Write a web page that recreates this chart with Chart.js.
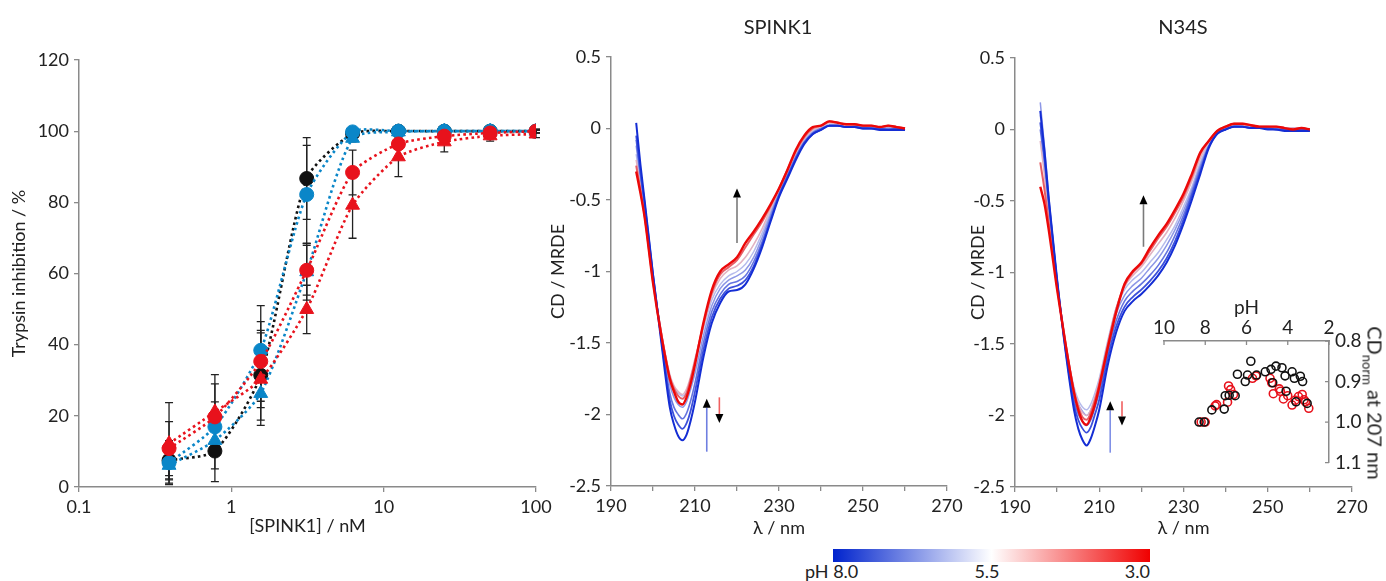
<!DOCTYPE html>
<html><head><meta charset="utf-8">
<script src="https://cdn.jsdelivr.net/npm/chart.js@4.4.1/dist/chart.umd.min.js"></script>
<style>
html,body{margin:0;padding:0;background:#fff;}
body{width:1386px;height:581px;position:relative;overflow:hidden;font-family:Lato,"Open Sans",sans-serif;color:#222;}
canvas{position:absolute;}
.t{position:absolute;white-space:nowrap;line-height:1;}
</style></head><body>
<canvas id="c1" width="560" height="545" style="left:0;top:0"></canvas>
<canvas id="c2" width="432" height="545" style="left:540px;top:0"></canvas>
<canvas id="c3" width="426" height="545" style="left:960px;top:0"></canvas>
<canvas id="c4" width="246" height="190" style="left:1140px;top:290px"></canvas>
<div class="t" style="left:778px;top:26px;font-size:20px;transform:translate(-50%,-50%)">SPINK1</div>
<div class="t" style="left:1183px;top:26px;font-size:20px;transform:translate(-50%,-50%)">N34S</div>
<div class="t" style="left:1373px;top:403px;font-size:20px;transform:translate(-50%,-50%) rotate(90deg)">CD<sub style="font-size:13px">norm</sub> at 207 nm</div>
<div id="cbar" style="position:absolute;left:833px;top:549px;width:317px;height:13px;background:linear-gradient(to right,rgb(0,35,205),rgb(255,255,255) 50%,rgb(240,0,0))"></div>
<div class="t" id="cb0" style="left:805px;top:571px;font-size:18px;transform:translate(0,-50%)"></div>
<div class="t" id="cb1" style="left:987px;top:571px;font-size:18px;transform:translate(-50%,-50%)"></div>
<div class="t" id="cb2" style="left:1150px;top:571px;font-size:18px;transform:translate(-100%,-50%)"></div>
<script>
// ---------- Panel 1: trypsin inhibition ----------
const concentrations = [0.39, 0.78, 1.56, 3.125, 6.25, 12.5, 25, 50, 100];
const inhibBlackCircle = [7.5, 10.1, 31.4, 86.7, 99.3, 100, 100, 100, 100];
const errBlackCircle   = [5.5, 8.6, 12.6, 11.5, 1.0, 0.5, 0.5, 0.5, 0.5];
const inhibBlueCircle  = [6.8, 16.9, 38.4, 82.2, 99.8, 100, 100, 100, 100];
const errBlueCircle    = [4.5, 7.0, 12.6, 13.8, 1.0, 0.5, 0.5, 0.5, 0.5];
const inhibBlueTri     = [6.1, 13.1, 26.3, 60.5, 98.0, 99.8, 100, 100, 100];
const errBlueTri       = [5.0, 8.0, 4.0, 8.0, 1.0, 0.5, 0.5, 0.5, 0.5];
const inhibRedCircle   = [10.8, 19.7, 35.3, 60.9, 88.4, 96.4, 98.6, 99.5, 100];
const errRedCircle     = [7.6, 9.3, 11.2, 7.0, 6.3, 1.5, 1.5, 1.0, 0.5];
const inhibRedTri      = [12.2, 21.1, 30.3, 49.9, 79.2, 92.8, 97.0, 98.7, 99.2];
const errRedTri        = [11.5, 10.5, 13.0, 6.8, 9.3, 5.6, 2.8, 1.5, 1.0];
const inhibXTicks = [0.1, 1, 10, 100];
const inhibYTicks = [0, 20, 40, 60, 80, 100, 120];

// ---------- Panels 2/3: CD spectra ----------
const wavelengths = [196,197,198,200,202,204,205,206,207,208,209,210,
  212,214,216,218,220,222,224,226,228,230,232,234,236,238,
  240,242,244,246,248,250,252,254,256,258,260];
const phLevels = [8.0, 7.5, 7.0, 6.5, 6.0, 5.0, 4.0, 3.0];
const spink1_pH80 = [0.04,-0.25,-0.50,-1.02,-1.50,-1.95,-2.07,-2.15,-2.18,-2.14,-2.04,-1.91,
  -1.60,-1.36,-1.22,-1.14,-1.13,-1.09,-0.98,-0.83,-0.65,-0.48,-0.35,-0.22,-0.11,-0.04,
  -0.01,0.02,0.02,0.01,0.01,0.00,0.00,-0.01,-0.01,-0.01,-0.01];
const spink1_pH75 = [-0.05,-0.30,-0.52,-1.02,-1.48,-1.90,-2.01,-2.07,-2.10,-2.06,-1.97,-1.84,
  -1.55,-1.32,-1.19,-1.12,-1.10,-1.06,-0.96,-0.81,-0.64,-0.47,-0.34,-0.21,-0.10,-0.04,
  -0.01,0.02,0.02,0.01,0.01,0.00,0.00,0.00,-0.01,0.00,-0.01];
const spink1_pH70 = [-0.08,-0.32,-0.54,-1.03,-1.47,-1.85,-1.95,-2.00,-2.03,-1.99,-1.90,-1.78,
  -1.50,-1.28,-1.16,-1.09,-1.07,-1.03,-0.93,-0.79,-0.62,-0.46,-0.33,-0.20,-0.10,-0.03,
  0.00,0.02,0.02,0.01,0.01,0.01,0.00,0.00,0.00,0.00,-0.01];
const spink1_pH65 = [-0.12,-0.35,-0.56,-1.04,-1.45,-1.79,-1.88,-1.93,-1.95,-1.91,-1.82,-1.71,
  -1.45,-1.24,-1.12,-1.06,-1.03,-0.99,-0.90,-0.76,-0.60,-0.45,-0.32,-0.19,-0.09,-0.03,
  0.00,0.02,0.02,0.01,0.02,0.01,0.01,0.00,0.01,0.00,0.00];
const spink1_pH60 = [-0.18,-0.38,-0.58,-1.05,-1.43,-1.73,-1.81,-1.85,-1.87,-1.84,-1.75,-1.64,
  -1.40,-1.20,-1.09,-1.03,-1.00,-0.95,-0.86,-0.73,-0.58,-0.44,-0.31,-0.18,-0.08,-0.02,
  0.01,0.03,0.03,0.02,0.02,0.01,0.01,0.00,0.01,0.00,0.00];
const spink1_pH50 = [-0.22,-0.41,-0.60,-1.06,-1.43,-1.72,-1.80,-1.84,-1.86,-1.82,-1.73,-1.61,
  -1.38,-1.17,-1.05,-0.99,-0.96,-0.90,-0.81,-0.70,-0.56,-0.43,-0.30,-0.17,-0.07,-0.01,
  0.01,0.04,0.03,0.02,0.03,0.02,0.01,0.01,0.01,0.01,0.00];
const spink1_pH40 = [-0.26,-0.43,-0.61,-1.07,-1.44,-1.74,-1.82,-1.87,-1.89,-1.85,-1.75,-1.63,
  -1.37,-1.15,-1.02,-0.97,-0.92,-0.83,-0.74,-0.65,-0.54,-0.42,-0.29,-0.16,-0.06,0.00,
  0.02,0.05,0.04,0.03,0.03,0.02,0.02,0.01,0.02,0.01,0.00];
const spink1_pH30 = [-0.30,-0.45,-0.62,-1.08,-1.45,-1.75,-1.84,-1.91,-1.93,-1.88,-1.78,-1.65,
  -1.36,-1.13,-1.00,-0.95,-0.90,-0.80,-0.72,-0.63,-0.53,-0.42,-0.29,-0.15,-0.05,0.01,
  0.02,0.05,0.04,0.03,0.03,0.02,0.02,0.01,0.02,0.01,0.00];

const n34s_pH80 = [0.13,-0.15,-0.48,-1.05,-1.55,-1.96,-2.09,-2.17,-2.21,-2.16,-2.07,-1.96,
  -1.65,-1.42,-1.27,-1.20,-1.15,-1.09,-1.02,-0.93,-0.81,-0.66,-0.49,-0.31,-0.13,-0.03,
  0.00,0.02,0.02,0.01,0.01,0.00,0.00,-0.01,-0.01,-0.01,-0.01];
const n34s_pH75 = [0.05,-0.20,-0.50,-1.06,-1.54,-1.92,-2.03,-2.09,-2.12,-2.08,-1.99,-1.89,
  -1.60,-1.38,-1.24,-1.17,-1.12,-1.06,-0.99,-0.90,-0.78,-0.63,-0.46,-0.29,-0.12,-0.03,
  0.00,0.02,0.02,0.01,0.01,0.01,0.00,0.00,-0.01,0.00,-0.01];
const n34s_pH70 = [0.00,-0.23,-0.52,-1.07,-1.53,-1.89,-1.99,-2.04,-2.07,-2.03,-1.94,-1.84,
  -1.56,-1.34,-1.20,-1.13,-1.08,-1.02,-0.95,-0.86,-0.74,-0.60,-0.44,-0.27,-0.12,-0.03,
  0.00,0.02,0.02,0.01,0.01,0.01,0.00,0.00,0.00,0.00,-0.01];
const n34s_pH65 = [0.19,-0.12,-0.46,-1.05,-1.50,-1.83,-1.92,-1.97,-2.00,-1.96,-1.88,-1.78,
  -1.51,-1.29,-1.16,-1.09,-1.04,-0.97,-0.90,-0.81,-0.70,-0.57,-0.42,-0.25,-0.11,-0.02,
  0.01,0.03,0.03,0.02,0.02,0.01,0.01,0.00,0.01,0.00,0.00];
const n34s_pH60 = [0.10,-0.18,-0.50,-1.06,-1.49,-1.80,-1.89,-1.94,-1.96,-1.92,-1.84,-1.74,
  -1.48,-1.25,-1.12,-1.05,-1.00,-0.93,-0.86,-0.77,-0.67,-0.54,-0.40,-0.23,-0.10,-0.02,
  0.01,0.03,0.03,0.02,0.02,0.02,0.01,0.01,0.01,0.00,0.00];
const n34s_pH50 = [-0.08,-0.32,-0.60,-1.09,-1.49,-1.82,-1.92,-1.98,-2.00,-1.96,-1.87,-1.76,
  -1.50,-1.25,-1.10,-1.02,-0.96,-0.88,-0.80,-0.72,-0.62,-0.50,-0.36,-0.20,-0.09,-0.01,
  0.02,0.04,0.03,0.03,0.02,0.02,0.01,0.01,0.01,0.01,0.00];
const n34s_pH40 = [-0.23,-0.42,-0.65,-1.10,-1.50,-1.83,-1.94,-2.01,-2.03,-1.98,-1.89,-1.78,
  -1.51,-1.26,-1.09,-1.00,-0.94,-0.85,-0.76,-0.68,-0.58,-0.47,-0.33,-0.17,-0.08,-0.01,
  0.02,0.04,0.04,0.03,0.02,0.02,0.02,0.01,0.00,0.01,0.00];
const n34s_pH30 = [-0.40,-0.52,-0.70,-1.12,-1.50,-1.84,-1.96,-2.04,-2.065,-2.01,-1.92,-1.80,
  -1.53,-1.28,-1.08,-0.99,-0.93,-0.83,-0.74,-0.66,-0.56,-0.45,-0.31,-0.16,-0.08,-0.01,
  0.02,0.04,0.04,0.03,0.02,0.02,0.02,0.01,0.00,0.01,0.00];

const lambdaTicks = [190,200,210,220,230,240,250,260,270];
const lambdaLabelled = [190,210,230,250,270];
const cdTicks = [0.5,0,-0.5,-1,-1.5,-2,-2.5];

// arrow annotations (data units)
const spinkArrows = [
  {x:220.0, from:-0.80, to:-0.42, color:'#7a7a7a'},
  {x:212.8, from:-2.26, to:-1.89, color:'#6f7fe0'},
  {x:215.8, from:-1.88, to:-2.06, color:'#f06060'}];
const n34sArrows = [
  {x:220.5, from:-0.82, to:-0.46, color:'#7a7a7a'},
  {x:212.6, from:-2.26, to:-1.90, color:'#8090e6'},
  {x:215.4, from:-1.90, to:-2.07, color:'#f06060'}];

// ---------- Inset: CDnorm at 207 nm vs pH ----------
const insetPhBlack = [8.30,8.05,7.68,7.08,7.03,6.84,6.55,6.44,6.06,5.95,5.79,5.51,5.09,4.81,4.57,4.73,4.28,4.13,4.08,3.79,3.68,3.60,3.39,3.28,3.06];
const insetCdBlack = [1.00,1.00,0.970,0.968,0.935,0.934,0.935,0.882,0.900,0.884,0.850,0.884,0.876,0.870,0.862,0.903,0.866,0.886,0.924,0.876,0.892,0.950,0.887,0.900,0.954];
const insetPhRed = [8.20,8.00,7.52,7.45,6.92,6.87,6.77,6.63,5.71,5.54,4.86,4.78,4.70,4.41,4.36,4.21,4.00,3.79,3.64,3.48,3.30,3.21,3.14,2.98];
const insetCdRed = [1.00,1.00,0.960,0.957,0.951,0.911,0.920,0.932,0.892,0.886,0.892,0.903,0.930,0.918,0.924,0.943,0.935,0.958,0.946,0.937,0.932,0.945,0.950,0.966];
const insetPhTicks = [10,8,6,4,2];
const insetCdTicks = [0.8,0.9,1.0,1.1];
const colorbarLabels = ['pH 8.0','5.5','3.0'];

// ================= rendering =================
document.getElementById('cb0').textContent = colorbarLabels[0];
document.getElementById('cb1').textContent = colorbarLabels[1];
document.getElementById('cb2').textContent = colorbarLabels[2];

Chart.defaults.font.family = 'Lato, "Open Sans", sans-serif';
Chart.defaults.font.size = 18;
Chart.defaults.color = '#222';

const AX = '#8a8a8a';
function axisStyle(drawTicks) {
  return {
    grid: {display:true, drawOnChartArea:false, drawTicks:drawTicks, tickLength:5, color:AX, lineWidth:1.3},
    border: {display:true, color:AX, width:1.5}
  };
}
const baseOpts = {responsive:false, animation:false, events:[], plugins:{legend:{display:false}, tooltip:{enabled:false}}};

const errorBarPlugin = {
  id:'errorBars',
  beforeDatasetsDraw(chart) {
    const {ctx, scales:{x, y}} = chart;
    ctx.save();
    ctx.strokeStyle = '#222'; ctx.lineWidth = 1.3;
    chart.data.datasets.forEach(ds => {
      if (!ds.errors) return;
      ds.data.forEach((p, i) => {
        const e = ds.errors[i]; if (!e) return;
        const px = x.getPixelForValue(p.x);
        const yt = y.getPixelForValue(p.y + e), yb = y.getPixelForValue(p.y - e);
        ctx.beginPath();
        ctx.moveTo(px, yt); ctx.lineTo(px, yb);
        ctx.moveTo(px - 4, yt); ctx.lineTo(px + 4, yt);
        ctx.moveTo(px - 4, yb); ctx.lineTo(px + 4, yb);
        ctx.stroke();
      });
    });
    ctx.restore();
  }
};

const arrowPlugin = {
  id:'arrows',
  afterDatasetsDraw(chart, args, opts) {
    const items = opts.items || [];
    const {ctx, scales:{x, y}} = chart;
    items.forEach(a => {
      const px = x.getPixelForValue(a.x);
      const y1 = y.getPixelForValue(a.from), y2 = y.getPixelForValue(a.to);
      const dir = y2 < y1 ? -1 : 1;
      const hl = 9, hw = 4;
      ctx.save();
      ctx.strokeStyle = a.color; ctx.lineWidth = 1.6;
      ctx.beginPath(); ctx.moveTo(px, y1); ctx.lineTo(px, y2 - dir * hl); ctx.stroke();
      ctx.fillStyle = '#000';
      ctx.beginPath(); ctx.moveTo(px, y2); ctx.lineTo(px - hw, y2 - dir * hl); ctx.lineTo(px + hw, y2 - dir * hl); ctx.closePath(); ctx.fill();
      ctx.restore();
    });
  }
};

function pts(xs, ys) { return xs.map((v, i) => ({x:v, y:ys[i]})); }

// ---- Panel 1
const inhibSeries = [
  {label:'red circles', vals:inhibRedCircle, errs:errRedCircle, color:'#e8121c', style:'circle', r:7},
  {label:'red triangles', vals:inhibRedTri, errs:errRedTri, color:'#e8121c', style:'triangle', r:8},
  {label:'blue circles', vals:inhibBlueCircle, errs:errBlueCircle, color:'#0a86c8', style:'circle', r:7},
  {label:'blue triangles', vals:inhibBlueTri, errs:errBlueTri, color:'#0a86c8', style:'triangle', r:8},
  {label:'black circles', vals:inhibBlackCircle, errs:errBlackCircle, color:'#111111', style:'circle', r:7}
];
new Chart(document.getElementById('c1'), {
  type:'line',
  data:{datasets: inhibSeries.map((s, i) => ({
    label:s.label, data:pts(concentrations, s.vals), errors:s.errs,
    borderColor:s.color, backgroundColor:s.color, pointBackgroundColor:s.color, pointBorderColor:s.color,
    pointStyle:s.style, pointRadius:s.r, pointBorderWidth:1, borderWidth:2.6, borderDash:[2.6,3.2],
    tension:0.22, fill:false, order:i
  }))},
  options:Object.assign({}, baseOpts, {
    layout:{padding:{top:60, right:24, left:0, bottom:0}},
    scales:{
      x:Object.assign({type:'logarithmic', min:0.1, max:100,
        afterBuildTicks:s => { s.ticks = inhibXTicks.map(v => ({value:v})); },
        afterFit:s => { s.height = 58; },
        ticks:{callback:v => String(v), autoSkip:false, maxRotation:0, padding:4},
        title:{display:true, text:'[SPINK1] / nM', padding:{top:0, bottom:8}}}, axisStyle(true)),
      y:Object.assign({type:'linear', min:0, max:120,
        afterBuildTicks:s => { s.ticks = inhibYTicks.map(v => ({value:v})); },
        afterFit:s => { s.width = 79; },
        ticks:{padding:5},
        title:{display:true, text:'Trypsin inhibition / %', padding:{top:8, bottom:0}}}, axisStyle(true))
    }
  }),
  plugins:[errorBarPlugin]
});

// ---- Panels 2 & 3
function phColor(pH) {
  const t = (8 - pH) / 5;
  const blue = [20, 45, 212], mid = [222, 222, 242], red = [236, 8, 8];
  let a, b, s;
  if (t <= 0.5) { a = blue; b = mid; s = t / 0.5; } else { a = mid; b = red; s = (t - 0.5) / 0.5; }
  const c = a.map((v, k) => Math.round(v + (b[k] - v) * s));
  return 'rgb(' + c.join(',') + ')';
}
const drawOrder = {8.0:1, 7.5:2, 7.0:4, 6.5:6, 6.0:7, 5.0:5, 4.0:3, 3.0:0};
const lineWidthFor = {8.0:2, 7.5:1.8, 7.0:1.6, 6.5:1.5, 6.0:1.5, 5.0:1.6, 4.0:2, 3.0:2.4};

function cdChart(id, curves, arrows, geo) {
  new Chart(document.getElementById(id), {
    type:'line',
    data:{datasets: curves.map((vals, i) => ({
      label:'pH ' + phLevels[i].toFixed(1), data:pts(wavelengths, vals),
      borderColor:phColor(phLevels[i]), borderWidth:lineWidthFor[phLevels[i]],
      pointRadius:0, cubicInterpolationMode:'monotone', fill:false, order:drawOrder[phLevels[i]]
    }))},
    options:Object.assign({}, baseOpts, {
      layout:{padding:{top:geo.top, right:geo.right, left:0, bottom:0}},
      plugins:{legend:{display:false}, tooltip:{enabled:false}, arrows:{items:arrows}},
      scales:{
        x:Object.assign({type:'linear', min:190, max:270,
          afterBuildTicks:s => { s.ticks = lambdaTicks.map(v => ({value:v})); },
          afterFit:s => { s.height = geo.xh; },
          ticks:{callback:v => lambdaLabelled.includes(v) ? String(v) : '', autoSkip:false, maxRotation:0, padding:4},
          title:{display:true, text:'λ / nm', padding:{top:0, bottom:geo.xtp}}}, axisStyle(true)),
        y:Object.assign({type:'linear', min:-2.5, max:0.5,
          afterBuildTicks:s => { s.ticks = cdTicks.map(v => ({value:v})); },
          afterFit:s => { s.width = geo.yw; },
          ticks:{padding:5, callback:v => String(Math.round(v * 10) / 10)},
          title:{display:true, text:'CD / MRDE', padding:{top:geo.ytp, bottom:0}}}, axisStyle(true))
      }
    }),
    plugins:[arrowPlugin]
  });
}
cdChart('c2', [spink1_pH80, spink1_pH75, spink1_pH70, spink1_pH65, spink1_pH60, spink1_pH50, spink1_pH40, spink1_pH30],
  spinkArrows, {top:57, right:25, xh:59, yw:71, xtp:6, ytp:7});
cdChart('c3', [n34s_pH80, n34s_pH75, n34s_pH70, n34s_pH65, n34s_pH60, n34s_pH50, n34s_pH40, n34s_pH30],
  n34sArrows, {top:58, right:34, xh:58, yw:55, xtp:6, ytp:7});

// ---- Inset
const insetTickPlugin = {
  id:'insetTicks',
  afterDraw(chart) {
    const {ctx, chartArea, scales:{x, y}} = chart;
    ctx.save(); ctx.strokeStyle = AX; ctx.lineWidth = 1.3; ctx.beginPath();
    insetPhTicks.forEach(v => { const px = x.getPixelForValue(v); ctx.moveTo(px, chartArea.top); ctx.lineTo(px, chartArea.top + 4); });
    insetCdTicks.forEach(v => { const py = y.getPixelForValue(v); ctx.moveTo(chartArea.right, py); ctx.lineTo(chartArea.right - 4, py); });
    ctx.stroke(); ctx.restore();
  }
};
new Chart(document.getElementById('c4'), {
  type:'scatter',
  data:{datasets:[
    {label:'N34S', data:pts(insetPhRed, insetCdRed), borderColor:'#e8121c', backgroundColor:'rgba(0,0,0,0)', pointRadius:4, pointBorderWidth:1.6, order:1},
    {label:'SPINK1', data:pts(insetPhBlack, insetCdBlack), borderColor:'#111', backgroundColor:'rgba(0,0,0,0)', pointRadius:4, pointBorderWidth:1.6, order:0}
  ]},
  options:Object.assign({}, baseOpts, {
    layout:{padding:{left:24, top:0, right:0, bottom:14}},
    scales:{
      x:{type:'linear', position:'top', reverse:true, min:2, max:10,
        afterBuildTicks:s => { s.ticks = insetPhTicks.map(v => ({value:v})); },
        afterFit:s => { s.height = 51; },
        ticks:{padding:2, autoSkip:false, maxRotation:0, font:{size:19}},
        title:{display:true, text:'pH', padding:{top:6, bottom:0}, font:{size:19}},
        grid:{display:true, drawOnChartArea:false, drawTicks:false, color:AX},
        border:{display:true, color:AX, width:1.5}},
      y:{type:'linear', position:'right', reverse:true, min:0.8, max:1.1,
        afterBuildTicks:s => { s.ticks = insetCdTicks.map(v => ({value:v})); },
        afterFit:s => { s.width = 57; },
        ticks:{padding:6, callback:v => v.toFixed(1), font:{size:19}},
        grid:{display:true, drawOnChartArea:false, drawTicks:false, color:AX},
        border:{display:true, color:AX, width:1.5}}
    }
  }),
  plugins:[insetTickPlugin]
});
</script>
</body></html>
